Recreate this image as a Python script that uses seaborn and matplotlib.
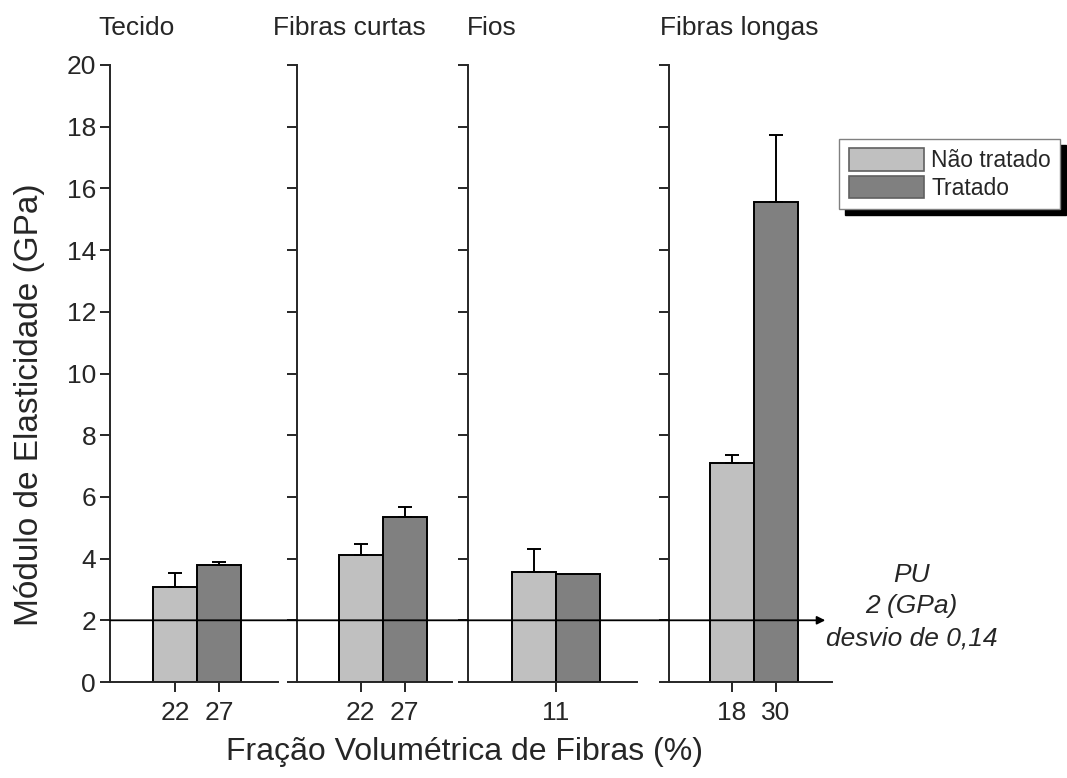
import matplotlib
matplotlib.use("Agg")
import matplotlib.pyplot as plt
import seaborn as sns
import numpy as np
import pandas as pd

# dados (GPa)
paineis = ["Tecido", "Fibras curtas", "Fios", "Fibras longas"]
fracao = [["22", "27"], ["22", "27"], ["11"], ["18", "30"]]
grupos = ["Não tratado", "Tratado"]
nao_tratado = [3.08, 4.12, 3.57, 7.10]
nao_tratado_err = [0.45, 0.35, 0.74, 0.26]
tratado = [3.79, 5.35, 3.50, 15.55]
tratado_err = [0.10, 0.32, 0.0, 2.17]
pu_valor = 2.0
pu_texto = "PU\n2 (GPa)\ndesvio de 0,14"
y_ticks = list(range(0, 21, 2))

sns.set_style("ticks")
plt.rcParams['font.family'] = ['Liberation Sans', 'DejaVu Sans']
plt.rcParams['axes.linewidth'] = 1.4

df = pd.DataFrame({
    "painel": np.repeat(paineis, 2),
    "grupo": grupos * len(paineis),
    "modulo": np.ravel(np.column_stack([nao_tratado, tratado])),
    "erro": np.ravel(np.column_stack([nao_tratado_err, tratado_err])),
})
cores = {"Não tratado": "#c0c0c0", "Tratado": "#808080"}

W, H = 1067, 778
fig = plt.figure(figsize=(W / 100, H / 100), dpi=100)

# layout (pixels): left edge of each panel, x-limits in bar widths
left_px = [110, 297, 468, 669]
xlims = [(-1.48, 2.34), (-1.45, 2.07), (-1.5, 2.34), (-1.43, 2.27)]
bar_px = 44
title_dx = [-12, -24, -1, -9]
bottom, height = 1 - 682 / H, 617 / H

axes = []
for i, p in enumerate(paineis):
    span = xlims[i][1] - xlims[i][0]
    ax = fig.add_axes([left_px[i] / W, bottom, span * bar_px / W, height])
    sub = df[df["painel"] == p]
    sns.barplot(data=sub, x="grupo", y="modulo", hue="grupo", order=grupos,
                hue_order=grupos, palette=cores, width=1, edgecolor="black",
                linewidth=1.4, errorbar=None, legend=False, ax=ax)
    # error bars, upper side only
    for j, (v, e) in enumerate(zip(sub["modulo"], sub["erro"])):
        if e > 0:
            ax.errorbar(j, v, yerr=[[0], [e]], fmt="none", ecolor="black",
                        elinewidth=1.4, capsize=5, capthick=1.4)
    ax.set_xlim(*xlims[i])
    ax.set_ylim(0, 20)
    ax.set_yticks(y_ticks)
    if i == 0:
        ax.set_yticklabels([str(t) for t in y_ticks])
    else:
        ax.set_yticklabels([])
    labs = fracao[i]
    ax.set_xticks([0, 1] if len(labs) == 2 else [0.5])
    ax.set_xticklabels(labs)
    ax.tick_params(axis="both", direction="out", length=7, width=1.4,
                   labelsize=19, pad=3)
    ax.tick_params(axis="x", pad=7)
    ax.set_xlabel("")
    ax.set_ylabel("")
    for s in ["top", "right"]:
        ax.spines[s].set_visible(False)
    ax.text(title_dx[i] / (span * bar_px), 1.06, p, transform=ax.transAxes,
            ha="left", va="center", fontsize=19)
    ax.patch.set_alpha(0)
    axes.append(ax)

# linha de referencia do PU atravessando todos os paineis
axes[-1].annotate("", xy=(0.96, pu_valor), xycoords=axes[-1].get_yaxis_transform(),
                  xytext=(0, pu_valor), textcoords=axes[0].get_yaxis_transform(),
                  arrowprops=dict(arrowstyle="-|>", color="black", lw=1.3,
                                  mutation_scale=12, shrinkA=0, shrinkB=0))
axes[-1].text(1.49, pu_valor + 0.45, pu_texto, transform=axes[-1].get_yaxis_transform(),
              ha="center", va="center", fontsize=19, style="italic", linespacing=1.4)

fig.text(0.435, 0.033, "Fração Volumétrica de Fibras (%)", ha="center",
         va="center", fontsize=23)
fig.text(0.028, 0.48, "Módulo de Elasticidade (GPa)", ha="center", va="center",
         rotation=90, fontsize=24)

handles = [plt.Rectangle((0, 0), 1, 1, facecolor=cores[g], edgecolor="#606060", lw=1.2)
           for g in grupos]
fig.legend(handles, grupos, loc="upper right", bbox_to_anchor=(1060 / W, 1 - 139 / H),
           fontsize=16.5, frameon=True, fancybox=False, edgecolor="#808080",
           shadow={"ox": 4, "oy": -4, "color": "black", "alpha": 1},
           handlelength=3.3, handleheight=1.15, handletextpad=0.3,
           borderpad=0.4, labelspacing=0.15, borderaxespad=0)

fig.savefig("out.png", dpi=100)
